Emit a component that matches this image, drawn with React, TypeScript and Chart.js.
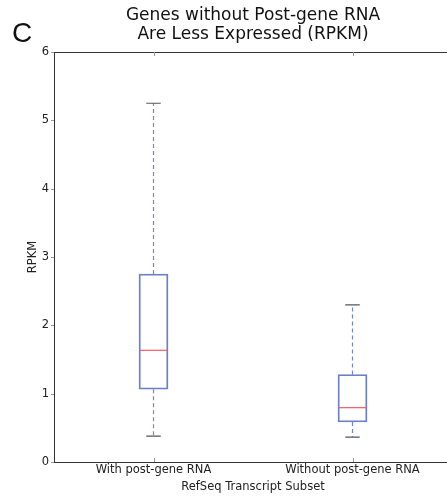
import React, { useEffect, useRef } from "react";
import { Chart, registerables } from "chart.js";

Chart.register(...registerables);

const categories = ["With post-gene RNA", "Without post-gene RNA"];
const whiskerLow = [0.38, 0.365];
const q1 = [1.065, 0.585];
const median = [1.635, 0.795];
const q3 = [2.75, 1.28];
const whiskerHigh = [5.25, 2.3];
const yTickValues = [0, 1, 2, 3, 4, 5, 6];

const FONT = "'DejaVu Sans', sans-serif";

const boxPlugin = {
  id: "boxExtras",
  afterDatasetsDraw(chart: any) {
    const ctx = chart.ctx;
    const xs = chart.scales.x;
    const ys = chart.scales.y;
    const meta = chart.getDatasetMeta(0);
    ctx.save();
    categories.forEach((_, i) => {
      const x = xs.getPixelForValue(i);
      const bar = meta.data[i];
      const half = bar ? bar.width / 2 : 14.5;
      const yLo = ys.getPixelForValue(whiskerLow[i]);
      const yQ1 = ys.getPixelForValue(q1[i]);
      const yMed = ys.getPixelForValue(median[i]);
      const yQ3 = ys.getPixelForValue(q3[i]);
      const yHi = ys.getPixelForValue(whiskerHigh[i]);
      // whiskers
      ctx.strokeStyle = "#7286d4";
      ctx.lineWidth = 1.2;
      ctx.setLineDash([4, 3]);
      ctx.beginPath();
      ctx.moveTo(x, yQ3);
      ctx.lineTo(x, yHi);
      ctx.moveTo(x, yQ1);
      ctx.lineTo(x, yLo);
      ctx.stroke();
      ctx.setLineDash([]);
      // caps
      ctx.strokeStyle = "#555";
      ctx.lineWidth = 1.2;
      ctx.beginPath();
      ctx.moveTo(x - half / 2, yHi);
      ctx.lineTo(x + half / 2, yHi);
      ctx.moveTo(x - half / 2, yLo);
      ctx.lineTo(x + half / 2, yLo);
      ctx.stroke();
      // median
      ctx.strokeStyle = "#f05a66";
      ctx.lineWidth = 1.2;
      ctx.beginPath();
      ctx.moveTo(x - half, yMed);
      ctx.lineTo(x + half, yMed);
      ctx.stroke();
    });
    ctx.restore();
  },
  afterDraw(chart: any) {
    const ctx = chart.ctx;
    const { left, right, top, bottom } = chart.chartArea;
    const xs = chart.scales.x;
    const ys = chart.scales.y;
    ctx.save();
    ctx.strokeStyle = "#333";
    ctx.lineWidth = 1;
    ctx.strokeRect(Math.round(left) + 0.5, Math.round(top) + 0.5, Math.round(right - left), Math.round(bottom - top));
    ctx.strokeStyle = "#999";
    ctx.beginPath();
    categories.forEach((_, i) => {
      const x = Math.round(xs.getPixelForValue(i)) + 0.5;
      ctx.moveTo(x, top);
      ctx.lineTo(x, top + 4);
      ctx.moveTo(x, bottom);
      ctx.lineTo(x, bottom - 4);
    });
    yTickValues.forEach((v) => {
      const y = Math.round(ys.getPixelForValue(v)) + 0.5;
      ctx.moveTo(left, y);
      ctx.lineTo(left - 3, y);
    });
    ctx.stroke();
    // panel letter
    ctx.fillStyle = "#111";
    ctx.font = "28px 'Liberation Sans', Arial, sans-serif";
    ctx.textAlign = "left";
    ctx.textBaseline = "alphabetic";
    ctx.fillText("C", 12, 42);
    ctx.restore();
  },
};

export default function App() {
  const ref = useRef<HTMLCanvasElement | null>(null);
  useEffect(() => {
    document.body.style.margin = "0";
    const canvas = ref.current;
    if (!canvas) return;
    const chart = new Chart(canvas, {
      type: "bar",
      data: {
        labels: categories,
        datasets: [
          {
            data: categories.map((_, i) => [q1[i], q3[i]]) as any,
            backgroundColor: "rgba(255,255,255,0)",
            borderColor: "#6a7ecb",
            borderWidth: 1.2,
            borderSkipped: false,
            barThickness: 29,
          },
        ],
      },
      options: {
        animation: false,
        responsive: false,
        events: [],
        layout: { padding: { right: 8, left: 0, top: 0, bottom: 0 } },
        plugins: {
          legend: { display: false },
          tooltip: { enabled: false },
          title: {
            display: true,
            fullSize: false,
            text: ["Genes without Post-gene RNA", "Are Less Expressed (RPKM)"],
            color: "#111",
            font: { family: FONT, size: 17, weight: "normal", lineHeight: 19 / 17 },
            padding: { top: 6, bottom: 8 },
          },
        },
        scales: {
          x: {
            type: "category",
            offset: true,
            grid: { display: false, drawTicks: false },
            border: { display: false },
            ticks: { color: "#222", font: { family: FONT, size: 11.5 }, padding: 1, maxRotation: 0 },
            title: {
              display: true,
              text: "RefSeq Transcript Subset",
              color: "#222",
              font: { family: FONT, size: 11.5 },
              padding: { top: 4, bottom: 4 },
            },
            afterFit: (scale: any) => {
              scale.height = 36;
            },
          },
          y: {
            min: 0,
            max: 6,
            grid: { display: false, drawTicks: false },
            border: { display: false },
            afterBuildTicks: (scale: any) => {
              scale.ticks = yTickValues.map((v) => ({ value: v }));
            },
            ticks: { color: "#222", font: { family: FONT, size: 11.5 }, padding: 5 },
            title: {
              display: true,
              text: "RPKM",
              color: "#222",
              font: { family: FONT, size: 11.5 },
              padding: { top: 26, bottom: 0 },
            },
            afterFit: (scale: any) => {
              scale.width = 54;
            },
          },
        },
      },
      plugins: [boxPlugin],
    });
    return () => chart.destroy();
  }, []);
  return (
    <div style={{ position: "absolute", left: 0, top: 0, width: 447, height: 498, overflow: "hidden", background: "#fff" }}>
      <canvas ref={ref} width={460} height={498} style={{ display: "block" }} />
    </div>
  );
}
